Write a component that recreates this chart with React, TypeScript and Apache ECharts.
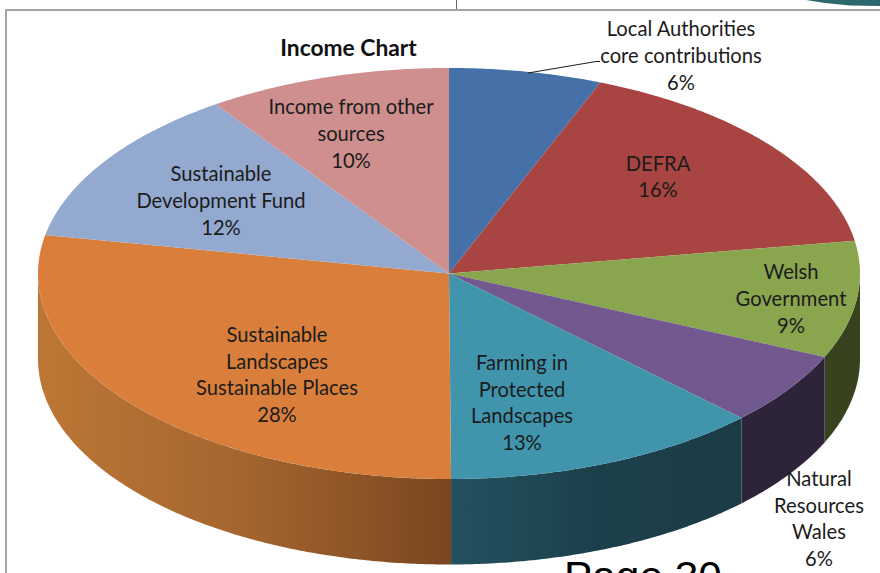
import React, { useEffect, useRef } from "react";
import * as echarts from "echarts";

const categories = [
  "Local Authorities\ncore contributions",
  "DEFRA",
  "Welsh\nGovernment",
  "Natural\nResources\nWales",
  "Farming in\nProtected\nLandscapes",
  "Sustainable\nLandscapes\nSustainable Places",
  "Sustainable\nDevelopment Fund",
  "Income from other\nsources",
];
const shares = [6, 16.45, 9.2, 5.75, 12.52, 28.08, 12.4, 9.6];
const topColors = ["#4671a8", "#a84442", "#89a54e", "#71588f", "#4095ad", "#d97f3b", "#93a9cf", "#ce8f8e"];
const labelCentres = [
  [681, 55], [658, 176], [791, 298], [819, 518], [522, 402], [277, 374], [221, 200], [351, 133],
];

const CX = 449, CY = 273.5, RX = 411, RY = 205.5, DEPTH = 85.5;
const TOTAL = shares.reduce((a, b) => a + b, 0);
const STEP = Math.PI / 360;

const startOf = (i: number) => shares.slice(0, i).reduce((a, b) => a + b, 0);
const toAngle = (share: number) => (share / TOTAL) * Math.PI * 2;
const arc = (a0: number, a1: number, dy = 0) => {
  const pts: number[][] = [];
  const n = Math.max(2, Math.ceil((a1 - a0) / STEP));
  for (let k = 0; k <= n; k++) {
    const a = a0 + ((a1 - a0) * k) / n;
    pts.push([CX + RX * Math.sin(a), CY - RY * Math.cos(a) + dy]);
  }
  return pts;
};

const wallFill = (i: number) => {
  if (i === 5) {
    return new echarts.graphic.LinearGradient(0, 0, 1, 0, [
      { offset: 0, color: "#bd7735" },
      { offset: 0.5, color: "#a4652f" },
      { offset: 1, color: "#7a4620" },
    ]);
  }
  if (i === 4) {
    return new echarts.graphic.LinearGradient(0, 0, 1, 0, [
      { offset: 0, color: "#23515f" },
      { offset: 0.5, color: "#1c404b" },
      { offset: 1, color: "#1b3c47" },
    ]);
  }
  return i === 3 ? "#2d2439" : i === 2 ? "#38421f" : "#333";
};

export default function App() {
  const ref = useRef<HTMLDivElement>(null);
  useEffect(() => {
    const chart = echarts.init(ref.current!, null, { renderer: "svg" });
    const data = shares.map((v) => [v]);
    chart.setOption({
      animation: false,
      backgroundColor: "#ffffff",
      title: {
        text: "Income Chart",
        left: 343.5,
        top: 30,
        textAlign: "center",
        textStyle: { fontFamily: "Lato", fontWeight: "bold", fontSize: 22.8, color: "#111" },
      },
      series: [
        {
          type: "custom",
          coordinateSystem: "none",
          silent: true,
          z: 1,
          data,
          renderItem: (params: any, api: any) => {
            const i = params.dataIndex;
            const a0 = Math.max(toAngle(startOf(i)), Math.PI / 2);
            const a1 = Math.min(toAngle(startOf(i) + api.value(0)), Math.PI * 1.5);
            if (a0 >= a1) return null;
            const points = [...arc(a0, a1), ...arc(a0, a1, DEPTH).reverse()];
            return { type: "polygon", shape: { points }, style: { fill: wallFill(i) } };
          },
        },
        {
          type: "custom",
          coordinateSystem: "none",
          silent: true,
          z: 2,
          data,
          renderItem: (params: any, api: any) => {
            const i = params.dataIndex;
            const a0 = toAngle(startOf(i));
            const a1 = toAngle(startOf(i) + api.value(0));
            return {
              type: "polygon",
              shape: { points: [[CX, CY], ...arc(a0, a1)] },
              style: { fill: topColors[i] },
            };
          },
        },
        {
          type: "custom",
          coordinateSystem: "none",
          silent: true,
          z: 3,
          data,
          renderItem: (params: any, api: any) => {
            const i = params.dataIndex;
            return {
              type: "text",
              x: labelCentres[i][0],
              y: labelCentres[i][1],
              style: {
                text: `${categories[i]}\n${Math.round(api.value(0))}%`,
                fontFamily: "Lato",
                fontSize: 20.2,
                lineHeight: 26.6,
                fill: "#1c1c1c",
                align: "center",
                verticalAlign: "middle",
              },
            };
          },
        },
      ],
      graphic: [
        { type: "rect", z: 0, shape: { x: 5, y: 9, width: 2, height: 564 }, style: { fill: "#a6a6a6" } },
        { type: "rect", z: 0, shape: { x: 5, y: 9, width: 875, height: 2 }, style: { fill: "#a6a6a6" } },
        { type: "line", z: 0, shape: { x1: 456.5, y1: 0, x2: 456.5, y2: 9 }, style: { stroke: "#666", lineWidth: 1 } },
        {
          type: "polygon",
          z: 0,
          shape: { points: [[806, 0], [880, 0], [880, 6], [850, 5.5], [825, 3]] },
          style: { fill: "#2a686e" },
        },
        {
          type: "polyline",
          z: 10,
          shape: { points: [[528, 73], [596, 61.5], [600, 61.5]] },
          style: { stroke: "#222", lineWidth: 1.2, fill: "none" },
        },
        {
          type: "text",
          z: 10,
          x: 564,
          y: 555,
          style: { text: "Page 30", fontFamily: "Liberation Sans", fontSize: 42.4, fill: "#000" },
        },
      ],
    });
    return () => chart.dispose();
  }, []);
  return (
    <div
      ref={ref}
      style={{ position: "fixed", left: 0, top: 0, width: 880, height: 573 }}
    />
  );
}
